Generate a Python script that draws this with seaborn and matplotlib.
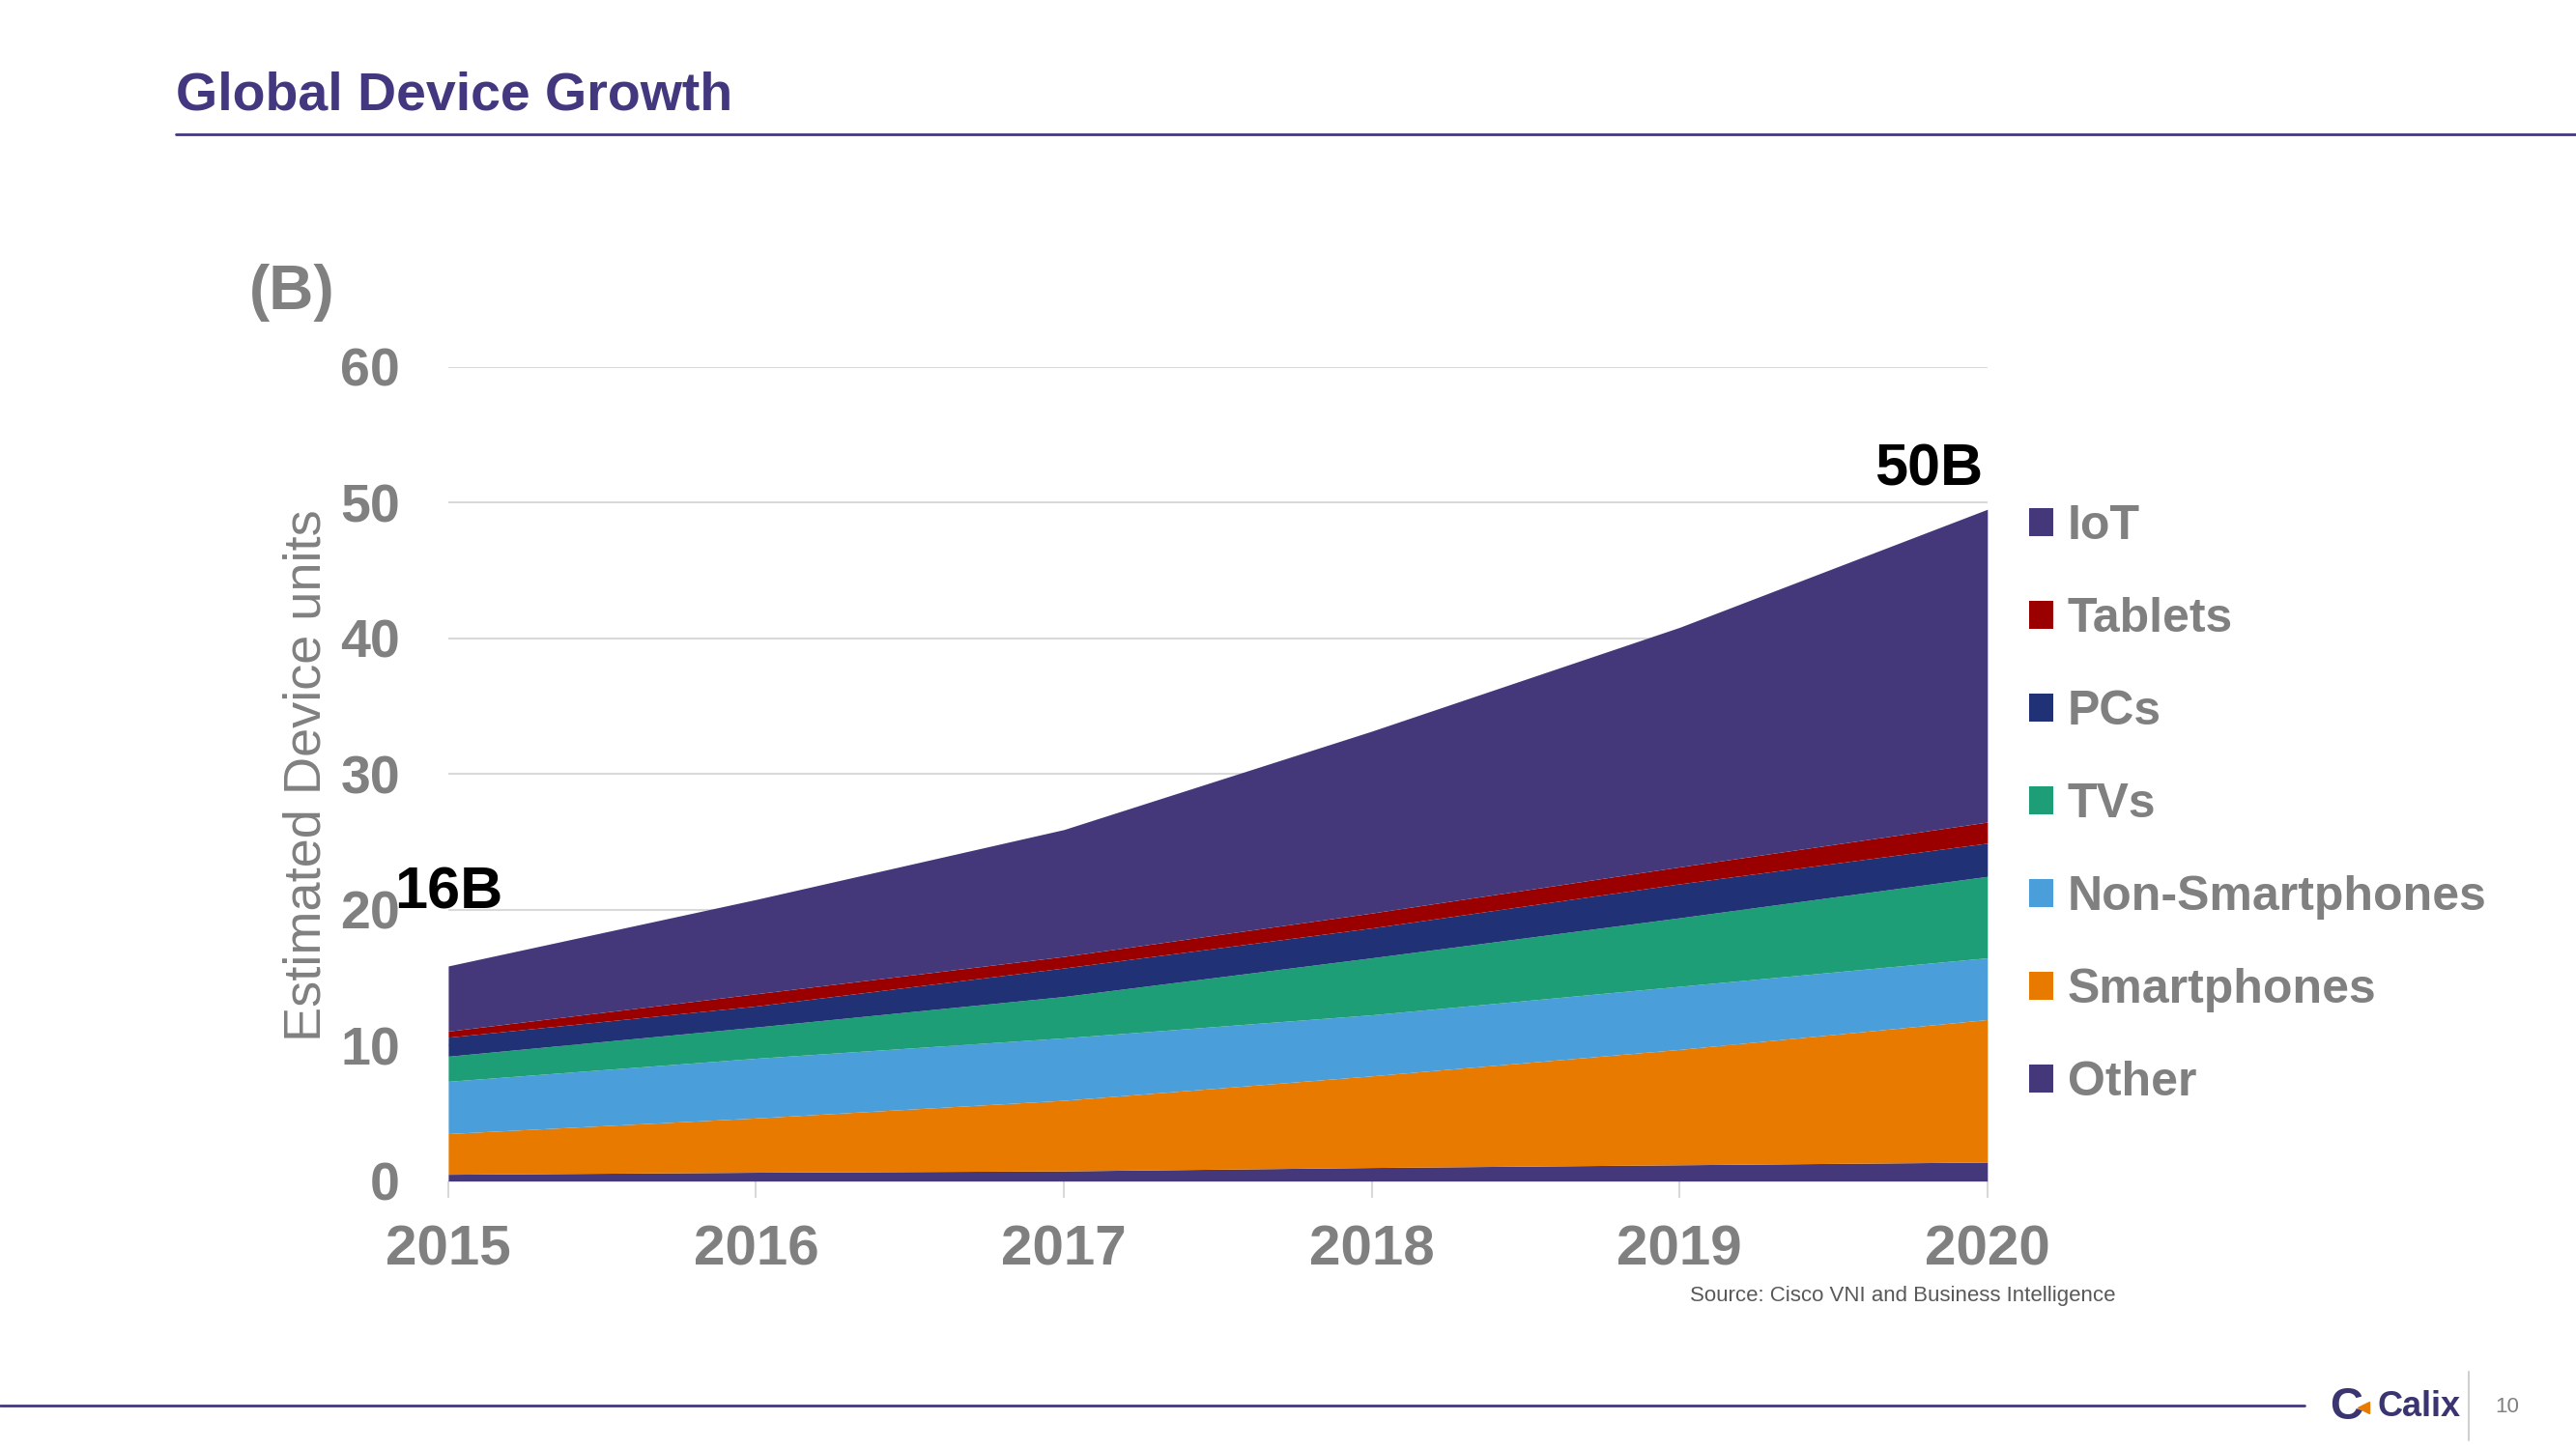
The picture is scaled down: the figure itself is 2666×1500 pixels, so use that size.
import matplotlib
matplotlib.use("Agg")
import matplotlib.pyplot as plt
from matplotlib.patches import Patch
from matplotlib.lines import Line2D
import seaborn as sns
import pandas as pd

# --- Data (billions of devices) ---
years = [2015, 2016, 2017, 2018, 2019, 2020]
other = [0.5, 0.65, 0.75, 1.0, 1.2, 1.4]
smartphones = [3.0, 4.0, 5.2, 6.75, 8.5, 10.5]
non_smartphones = [3.85, 4.4, 4.6, 4.5, 4.65, 4.55]
tvs = [1.85, 2.3, 3.05, 4.2, 5.05, 6.0]
pcs = [1.4, 1.55, 2.1, 2.2, 2.5, 2.45]
tablets = [0.45, 0.9, 0.85, 1.1, 1.25, 1.55]
iot = [4.8, 6.95, 9.35, 13.4, 17.65, 23.05]

series_names = ["Other", "Smartphones", "Non-Smartphones", "TVs", "PCs", "Tablets", "IoT"]
series_colors = ["#44377A", "#E87A00", "#4A9FDA", "#1E9E76", "#213175", "#9B0000", "#44377A"]
y_ticks = [0, 10, 20, 30, 40, 50, 60]

df = pd.DataFrame({
    "Other": other,
    "Smartphones": smartphones,
    "Non-Smartphones": non_smartphones,
    "TVs": tvs,
    "PCs": pcs,
    "Tablets": tablets,
    "IoT": iot,
}, index=years)

PURPLE = "#43387F"
GRAY = "#808080"

sns.set_theme(style="white")
plt.rcParams["font.family"] = ["Liberation Sans", "DejaVu Sans"]

fig = plt.figure(figsize=(26.66, 15), dpi=100)
ax = fig.add_axes([0.174, 0.1849, 0.5975, 0.562])

ax.stackplot(df.index, [df[c] for c in series_names], colors=series_colors,
             labels=series_names, linewidth=0, zorder=2)

ax.set_xlim(2015, 2020)
ax.set_ylim(0, 60)
ax.set_yticks(y_ticks)
ax.set_xticks(years)
ax.yaxis.grid(True, color="#D9D9D9", linewidth=1.5, zorder=0)
ax.xaxis.grid(False)
sns.despine(ax=ax, left=True, top=True, right=True, bottom=True)

ax.tick_params(axis="y", length=0, pad=36, labelsize=40, labelcolor=GRAY)
ax.tick_params(axis="x", length=12, width=1.5, color="#D9D9D9", direction="out",
               bottom=True, pad=20, labelsize=42, labelcolor=GRAY)
for lab in ax.get_xticklabels() + ax.get_yticklabels():
    lab.set_fontweight("bold")

fig.text(0.119, 0.465, "Estimated Device units", rotation=90, ha="center", va="center",
         fontsize=39, color=GRAY,
         family=["Liberation Sans Narrow", "Liberation Sans", "DejaVu Sans"])

# Legend (top to bottom: reverse stacking order)
handles = [Patch(facecolor=c, edgecolor="none") for c in series_colors][::-1]
labels = series_names[::-1]
leg = fig.legend(handles, labels, loc="upper left",
                 bbox_to_anchor=(2100 / 2666, 1 - 522 / 1500),
                 frameon=False, fontsize=36, handlelength=0.5, handleheight=0.5,
                 handletextpad=0.3, labelspacing=1.0, borderpad=0, borderaxespad=0)
for t in leg.get_texts():
    t.set_color(GRAY)
    t.set_fontweight("bold")

# Title and header rule
fig.text(182 / 2666, 1 - 114 / 1500, "Global Device Growth", fontsize=40,
         fontweight="bold", color=PURPLE, ha="left", va="baseline")
fig.add_artist(Line2D([182 / 2666, 1.0], [1 - 139 / 1500] * 2, color=PURPLE, linewidth=2))

# Unit and callouts
fig.text(258 / 2666, 1 - 320 / 1500, "(B)", fontsize=46, fontweight="bold",
         color=GRAY, ha="left", va="baseline")
fig.text(408 / 2666, 1 - 940 / 1500, "16B", fontsize=44, fontweight="bold",
         color="black", ha="left", va="baseline")
fig.text(2052 / 2666, 1 - 503 / 1500, "50B", fontsize=44, fontweight="bold",
         color="black", ha="right", va="baseline")

fig.text(1749 / 2666, 1 - 1347 / 1500, "Source: Cisco VNI and Business Intelligence",
         fontsize=16, color="#595959", ha="left", va="baseline")

# Footer
fig.add_artist(Line2D([0, 2385 / 2666], [1 - 1455 / 1500] * 2, color=PURPLE, linewidth=2))
fig.text(2411 / 2666, 1 - 1457 / 1500, "C", fontsize=34, fontweight="bold",
         color="#3A3570", ha="left", va="center")
fig.add_artist(Line2D([2446 / 2666], [1 - 1457 / 1500], marker="<", markersize=9,
                      color="#E87A00", linestyle="none"))
fig.text(2460 / 2666, 1 - 1457 / 1500, "Calix", fontsize=26, fontweight="bold",
         color="#3A3570", ha="left", va="center",
         family=["Liberation Sans Narrow", "Liberation Sans", "DejaVu Sans"])
fig.add_artist(Line2D([2555 / 2666] * 2, [1 - 1420 / 1500, 1 - 1491 / 1500],
                      color="#D0D0D0", linewidth=1.5))
fig.text(2582 / 2666, 1 - 1457 / 1500, "10", fontsize=16, color=GRAY,
         ha="left", va="center",
         family=["Liberation Sans Narrow", "Liberation Sans", "DejaVu Sans"])

fig.savefig("out.png", dpi=100, facecolor="white")
